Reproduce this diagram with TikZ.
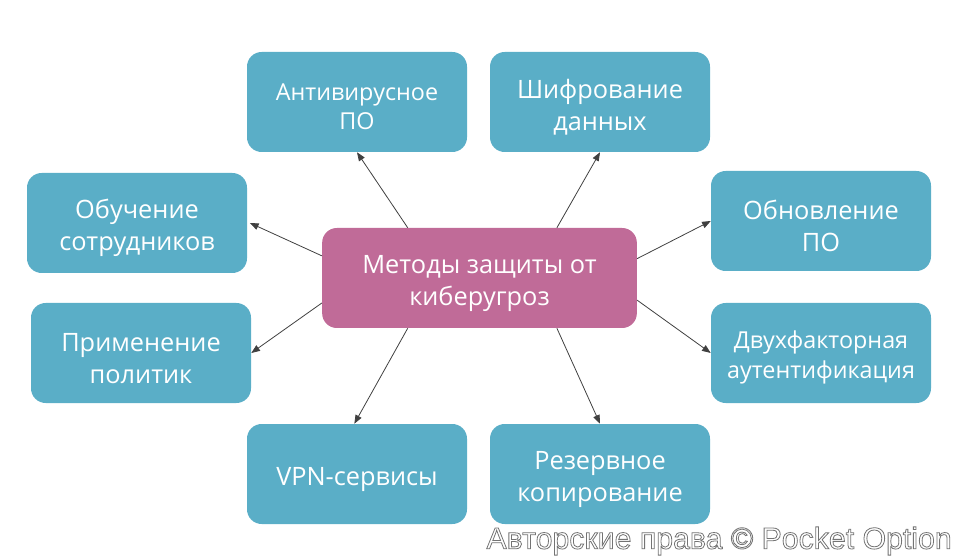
\documentclass[tikz,border=0pt]{standalone}
\usepackage{fontspec}
\setmainfont{Open Sans}
\newfontfamily\wmfont{Liberation Sans}
\usepackage{xcolor}
\usetikzlibrary{arrows.meta}
\definecolor{boxteal}{HTML}{5AAEC7}
\definecolor{hubpink}{HTML}{C06B98}
\definecolor{arrgray}{HTML}{404040}
\newcommand\boxlift{\rule{0pt}{1.15em}}

\begin{document}
\begin{tikzpicture}[x=0.75pt,y=-0.75pt,
  method/.style={fill=boxteal,rounded corners=11pt,minimum width=165pt,minimum height=75pt,
    text=white,align=center,font=\fontsize{19}{24}\selectfont,inner sep=0pt},
  small/.style={font=\fontsize{17.5}{22}\selectfont},
  hub/.style={method,fill=hubpink,minimum width=236pt},
  link/.style={draw=arrgray,line width=0.6pt,-{Triangle[length=6.5pt,width=5pt]}}]
\useasboundingbox (0,0) rectangle (963,559);
\node[hub](hub) at (479.5,278){\boxlift Методы защиты от\\киберугроз};
\node[method,small](anti) at (357,102){\boxlift Антивирусное\\ПО};
\node[method](shifr) at (600,102){\boxlift Шифрование\\данных};
\node[method](obuch) at (137,223){\boxlift Обучение\\сотрудников};
\node[method](obnov) at (821,221){\boxlift Обновление\\ПО};
\node[method](prim) at (141,353){\boxlift Применение\\политик};
\node[method,small](dvuh) at (821,353){\boxlift Двухфакторная\\аутентификация};
\node[method](vpn) at (357,474){\boxlift VPN-сервисы};
\node[method](rezerv) at (600,474){\boxlift Резервное\\копирование};
\draw[link](hub.145.8)--(anti.south);
\draw[link](hub.33.2)--(shifr.south);
\draw[link](hub.172.4)--([xshift=2pt]obuch.east);
\draw[link](hub.189)--(prim.east);
\draw[link](hub.7.6)--(obnov.west);
\draw[link](hub.-8.7)--(dvuh.west);
\draw[link](hub.215.7)--([xshift=-2pt]vpn.north);
\draw[link](hub.-33.2)--(rezerv.north);
\node[font=\wmfont\fontsize{22.7}{26}\selectfont,anchor=east,inner sep=0pt](mark) at (952,541)
  {\color{white}\special{pdf:literal direct 0.45 G 0.6 w 2 Tr}Авторские права © Pocket Option\special{pdf:literal direct 0 Tr}};
\end{tikzpicture}
\end{document}
